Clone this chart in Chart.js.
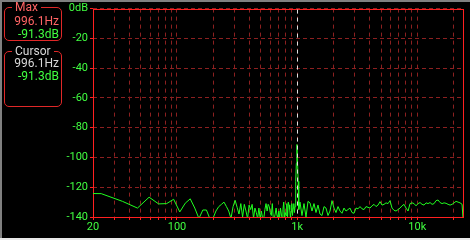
<!DOCTYPE html>
<html>
<head>
<meta charset="utf-8">
<script src="https://cdn.jsdelivr.net/npm/chart.js@4"></script>
<style>
  html, body { margin: 0; padding: 0; background: #000; }
  #wrap { position: relative; width: 470px; height: 240px; overflow: hidden; background: #000; }
  #chart { position: absolute; left: 0; top: 0; }
  .edge { position: absolute; }
  .box { position: absolute; box-sizing: border-box; border: 1px solid #e02828; border-radius: 5px;
         font-family: Roboto, sans-serif; font-size: 12px; line-height: 13px; }
  .title { position: absolute; top: -8px; left: 7px; padding: 0 3px; background: #000; line-height: 14px; }
  .val { position: absolute; right: 2px; white-space: nowrap; }
</style>
</head>
<body>
<div id="wrap">
  <canvas id="chart" width="470" height="240"></canvas>

  <div class="box" style="left:4px;top:7px;width:58px;height:34px">
    <span class="title" style="color:#ff6464">Max</span>
    <div class="val" id="maxHz" style="top:7px;color:#ff6464"></div>
    <div class="val" id="maxDb" style="top:20px;color:#40ff40"></div>
  </div>

  <div class="box" style="left:4px;top:51px;width:58px;height:56px">
    <span class="title" style="color:#d8d8d8">Cursor</span>
    <div class="val" id="curHz" style="top:5px;color:#d8d8d8"></div>
    <div class="val" id="curDb" style="top:18px;color:#40ff40"></div>
  </div>

  <div class="edge" style="left:0;top:0;width:2px;height:240px;background:#808080"></div>
  <div class="edge" style="left:0;top:0;width:470px;height:2px;background:#808080"></div>
  <div class="edge" style="left:0;top:238px;width:470px;height:2px;background:#e8e8e8"></div>
</div>

<script>
// FFT bins below ~1 kHz (48 kHz / 4096 points)
const binHz = [11.7, 23.4, 35.2, 46.9, 58.6, 70.3, 82.0, 93.8, 105.5, 117.2,
  128.9, 140.6, 152.3, 164.1, 175.8, 187.5, 199.2, 210.9, 222.7, 234.4,
  246.1, 257.8, 269.5, 281.3, 293.0, 304.7, 316.4, 328.1, 339.8, 351.6,
  363.3, 375.0, 386.7, 398.4, 410.2, 421.9, 433.6, 445.3, 457.0, 468.8,
  480.5, 492.2, 503.9, 515.6, 527.3, 539.1, 550.8, 562.5, 574.2, 585.9,
  597.7, 609.4, 621.1, 632.8, 644.5, 656.3, 668.0, 679.7, 691.4, 703.1,
  714.8, 726.6, 738.3, 750.0, 761.7, 773.4, 785.2, 796.9, 808.6, 820.3,
  832.0, 843.8, 855.5, 867.2, 878.9, 890.6, 902.3, 914.1, 925.8, 937.5,
  949.2, 960.9, 972.7, 984.4, 996.1, 1007.8, 1019.5, 1031.3];
const binDb = [-124, -124.3, -129.5, -134, -126.7, -131.2, -131, -128.1, -136.6, -130.7,
  -127.8, -134, -141, -135.3, -135.3, -141, -141, -136, -133, -131.5,
  -130, -133, -136, -141, -133, -128.8, -133.5, -138, -131, -140,
  -131.5, -136, -141, -132, -135, -131.5, -141, -134, -137, -141,
  -134, -141, -136, -141, -141, -135, -131, -136, -131.5, -133,
  -137, -139, -131, -141, -141, -138, -134, -139, -141, -136,
  -141, -134, -138, -141, -135, -130, -141, -137, -139, -131,
  -141, -130, -132, -135, -141, -136, -131, -139, -134, -131,
  -137, -133, -116, -104, -91.3, -104, -116, -135];

// display points above 1 kHz
const highHz = [1056, 1097, 1140, 1185, 1231, 1279, 1329, 1381, 1435, 1491,
  1549, 1610, 1673, 1738, 1806, 1877, 1950, 2026, 2105, 2188,
  2273, 2362, 2454, 2550, 2650, 2753, 2861, 2973, 3089, 3210,
  3335, 3466, 3601, 3742, 3888, 4040, 4198, 4362, 4533, 4710,
  4894, 5085, 5284, 5491, 5705, 5929, 6160, 6401, 6651, 6911,
  7182, 7462, 7754, 8057, 8372, 8700, 9040, 9393, 9760, 10142,
  10538, 10950, 11378, 11823, 12285, 12766, 13265, 13783, 14322, 14882,
  15464, 16069, 16697, 17350, 18028, 18733, 19465, 20226, 21017, 21839,
  22693, 23580, 24000];
const highDb = [-130, -139, -131, -140, -129.5, -130.5, -136, -131, -137, -132,
  -138, -139, -133, -134, -139, -136, -129, -134, -137, -133,
  -136, -137.5, -134, -136, -135, -134, -137, -137.5, -134, -134.5,
  -133, -134.5, -135, -133, -133.5, -134, -132.5, -131.5, -133, -132,
  -129.7, -132, -131.5, -130.5, -131, -129, -134, -135.5, -136, -135,
  -134, -132.5, -131.5, -134, -136, -131, -130.5, -131, -132.5, -131,
  -130.3, -131.5, -132, -130.5, -131, -130.3, -131.5, -131, -129, -128.6,
  -130.3, -131, -130.5, -130.8, -131.5, -132, -131.5, -130.5, -129.5, -130,
  -130.5, -131.5, -141];

const xGridHz = [20, 30, 40, 50, 60, 70, 80, 90, 100, 200, 300, 400, 500, 600, 700, 800, 900,
  1000, 2000, 3000, 4000, 5000, 6000, 7000, 8000, 9000, 10000, 20000];
const xLabels = { 20: '20', 100: '100', 1000: '1k', 10000: '10k' };
const yTicks = [-140, -120, -100, -80, -60, -40, -20, 0];

const maxHz = 996.1, maxDb = -91.3;
const cursorHz = 996.1, cursorDb = -91.3;

document.getElementById('maxHz').textContent = maxHz.toFixed(1) + 'Hz';
document.getElementById('maxDb').textContent = maxDb.toFixed(1) + 'dB';
document.getElementById('curHz').textContent = cursorHz.toFixed(1) + 'Hz';
document.getElementById('curDb').textContent = cursorDb.toFixed(1) + 'dB';

const points = binHz.map((f, i) => ({ x: f, y: binDb[i] }))
  .concat(highHz.map((f, i) => ({ x: f, y: highDb[i] })));

const frame = {
  id: 'frame',
  beforeDatasetsDraw(c) {
    const a = c.chartArea, g = c.ctx;
    g.save();
    g.strokeStyle = '#ff2020';
    g.lineWidth = 1;
    g.strokeRect(Math.round(a.left) + 0.5, Math.round(a.top) + 0.5,
      Math.round(a.right - a.left), Math.round(a.bottom - a.top));
    g.restore();
  }
};

const cursor = {
  id: 'cursor',
  afterDatasetsDraw(c) {
    const a = c.chartArea, g = c.ctx;
    const x = Math.round(c.scales.x.getPixelForValue(cursorHz)) + 0.5;
    g.save();
    g.strokeStyle = '#e0e0e0';
    g.lineWidth = 1;
    g.setLineDash([4, 4]);
    g.beginPath();
    g.moveTo(x, a.top + 1);
    g.lineTo(x, a.bottom);
    g.stroke();
    g.restore();
  }
};

const labelFont = { family: 'Roboto', size: 11 };

const ctx = document.getElementById('chart').getContext('2d');
const chart = new Chart(ctx, {
  type: 'line',
  data: {
    datasets: [{
      data: points,
      borderColor: '#20ff20',
      borderWidth: 1,
      pointRadius: 0,
      tension: 0,
      fill: false
    }]
  },
  options: {
    responsive: false,
    animation: false,
    layout: { padding: { left: 0, top: 6, right: 7, bottom: 0 } },
    plugins: { legend: { display: false }, tooltip: { enabled: false } },
    scales: {
      x: {
        type: 'logarithmic',
        min: 20,
        max: 24000,
        afterBuildTicks: s => { s.ticks = xGridHz.map(v => ({ value: v })); },
        afterFit: s => { s.height = 23; },
        ticks: {
          autoSkip: false, maxRotation: 0, padding: 1,
          color: '#40ff40', font: labelFont,
          callback: v => xLabels[v] || ''
        },
        grid: { color: '#8c2020', tickColor: '#ff2020', tickLength: 3 },
        border: { display: false, dash: [4, 4] }
      },
      y: {
        min: -140,
        max: 0,
        afterBuildTicks: s => { s.ticks = yTicks.map(v => ({ value: v })); },
        afterFit: s => { s.width = 93; },
        ticks: {
          padding: 2, color: '#40ff40', font: labelFont,
          callback: v => v === 0 ? '0dB' : String(v)
        },
        grid: { color: '#8c2020', tickColor: '#ff2020', tickLength: 3 },
        border: { display: false, dash: [4, 3] }
      }
    }
  },
  plugins: [frame, cursor]
});
</script>
</body>
</html>
